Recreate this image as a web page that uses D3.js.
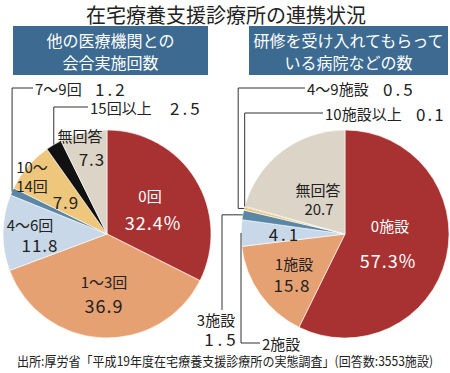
<!DOCTYPE html>
<html><head><meta charset="utf-8">
<script src="https://cdn.jsdelivr.net/npm/d3@7"></script>
<style>
html,body{margin:0;padding:0;background:#fff;}
svg{display:block;font-family:"Noto Sans CJK JP","Noto Sans",sans-serif;}
</style></head>
<body>
<script>
// ---- data ----
const title = "在宅療養支援診療所の連携状況";
const leftHeader = ["他の医療機関との", "会合実施回数"];
const rightHeader = ["研修を受け入れてもらって", "いる病院などの数"];
const leftCats = ["0回", "1～3回", "4～6回", "7～9回", "10～14回", "15回以上", "無回答"];
const leftVals = [32.4, 36.9, 11.8, 1.2, 7.9, 2.5, 7.3];
const rightCats = ["0施設", "1施設", "2施設", "3施設", "4～9施設", "10施設以上", "無回答"];
const rightVals = [57.3, 15.8, 4.1, 1.5, 0.5, 0.1, 20.7];
const sliceColors = ["#a83232", "#e6a173", "#c8d8e8", "#5a87a6", "#eec77c", "#111111", "#dcd4c7"];
const footer = "出所:厚労省「平成19年度在宅療養支援診療所の実態調査」(回答数:3553施設)";

const W = 450, H = 373, R = 104;
const svg = d3.select("body").append("svg").attr("width", W).attr("height", H);

svg.append("text").attr("x", 226).attr("y", 14).attr("text-anchor", "middle")
  .attr("dominant-baseline", "central").attr("font-size", 20).attr("fill", "#222").text(title);

function header(x0, x1, lines) {
  svg.append("rect").attr("x", x0).attr("y", 26).attr("width", x1 - x0).attr("height", 49).attr("fill", "#3c6a90");
  lines.forEach((t, i) => svg.append("text").attr("x", (x0 + x1) / 2).attr("y", 40 + i * 22)
    .attr("text-anchor", "middle").attr("dominant-baseline", "central")
    .attr("font-size", 16).attr("fill", "#fff").text(t));
}
header(13, 208, leftHeader);
header(249, 448, rightHeader);

const pie = d3.pie().sort(null).value(d => d);
const arc = d3.arc().innerRadius(0).outerRadius(R);

function drawPie(cx, cy, vals) {
  const g = svg.append("g").attr("transform", `translate(${cx},${cy})`);
  const arcs = pie(vals);
  g.selectAll("path").data(arcs).join("path")
    .attr("d", arc).attr("fill", (d, i) => sliceColors[i])
    .attr("stroke", "#fff").attr("stroke-width", 0.6);
  return arcs;
}
const L = {cx: 107, cy: 234}, Rt = {cx: 345, cy: 234};
const la = drawPie(L.cx, L.cy, leftVals);
const ra = drawPie(Rt.cx, Rt.cy, rightVals);

function edge(c, a) {
  const m = (a.startAngle + a.endAngle) / 2;
  return [c.cx + R * Math.sin(m), c.cy - R * Math.cos(m)];
}
function txt(x, y, s, size, fill, anchor, ls) {
  return svg.append("text").attr("x", x).attr("y", y).attr("font-size", size)
    .attr("fill", fill || "#222").attr("text-anchor", anchor || "middle")
    .attr("letter-spacing", ls || 0).attr("dominant-baseline", "central").text(s);
}
function line(pts) {
  svg.append("path").attr("d", d3.line()(pts)).attr("fill", "none").attr("stroke", "#333").attr("stroke-width", 1);
}
const fmt = v => v.toFixed(1);

// ---- left pie labels ----
txt(L.cx + 43, L.cy - 39, leftCats[0], 15, "#fff");
txt(L.cx + 46, L.cy - 12, fmt(leftVals[0]) + "%", 18, "#fff", "middle", 1);
txt(L.cx - 3, L.cy + 47, leftCats[1], 15);
txt(L.cx - 3, L.cy + 71, fmt(leftVals[1]), 18, "#222", "middle", 1);
txt(L.cx - 77, L.cy - 10, leftCats[2], 15);
txt(L.cx - 67, L.cy + 10, fmt(leftVals[2]), 17, "#222", "middle", 1);
txt(L.cx - 75, L.cy - 68, "10～", 15);
txt(L.cx - 75, L.cy - 49, "14回", 15);
txt(L.cx - 41, L.cy - 33, fmt(leftVals[4]), 17, "#222", "middle", 1);
txt(L.cx - 27, L.cy - 99, leftCats[6], 15);
txt(L.cx - 15, L.cy - 76, fmt(leftVals[6]), 17, "#222", "middle", 1);

// outside labels left
let p = edge(L, la[3]);
line([[p[0], p[1]], [p[0], 88], [33, 88]]);
txt(35, 88, leftCats[3], 15, "#222", "start");
txt(95, 88, fmt(leftVals[3]), 17, "#222", "start", 3);
p = edge(L, la[5]);
line([[p[0], p[1]], [p[0], 107], [88, 107]]);
txt(90, 107, leftCats[5], 15, "#222", "start");
txt(170, 107, fmt(leftVals[5]), 17, "#222", "start", 3);

// ---- right pie labels ----
txt(Rt.cx + 45, Rt.cy - 9, rightCats[0], 15, "#fff");
txt(Rt.cx + 43, Rt.cy + 26, fmt(rightVals[0]) + "%", 18, "#fff", "middle", 1);
txt(Rt.cx - 27, Rt.cy - 45, rightCats[6], 15);
txt(Rt.cx - 26, Rt.cy - 26, fmt(rightVals[6]), 15);
txt(Rt.cx - 60, Rt.cy - 1, fmt(rightVals[2]), 17, "#222", "middle", 3);
txt(Rt.cx - 51, Rt.cy + 29, rightCats[1], 15);
txt(Rt.cx - 53, Rt.cy + 50, fmt(rightVals[1]), 17, "#222", "middle", 1);

// 4~9施設
p = edge(Rt, ra[4]);
line([[p[0], p[1]], [p[0] - 6, p[1]], [p[0] - 6, 88], [305, 88]]);
txt(307, 88, rightCats[4], 15, "#222", "start");
txt(383, 88, fmt(rightVals[4]), 17, "#222", "start", 3);
// 10施設以上
p = edge(Rt, ra[5]);
line([[p[0], p[1]], [p[0], 113], [323, 113]]);
txt(325, 113, rightCats[5], 15, "#222", "start");
txt(416, 113, fmt(rightVals[5]), 17, "#222", "start", 2);
// 3施設
p = edge(Rt, ra[3]);
line([[p[0], p[1]], [222, p[1]], [222, 310]]);
txt(216, 319, rightCats[3], 15);
txt(222, 338, fmt(rightVals[3]), 17, "#222", "middle", 4);
// 2施設
p = edge(Rt, ra[2]);
line([[p[0], p[1]], [p[0], 343], [260, 343]]);
txt(262, 343, rightCats[2], 15, "#222", "start");

// footer
svg.append("text").attr("x", 17).attr("y", 360).attr("font-size", 13).attr("fill", "#222")
  .attr("dominant-baseline", "central").attr("textLength", 416).attr("lengthAdjust", "spacingAndGlyphs").text(footer);
</script>
</body></html>
